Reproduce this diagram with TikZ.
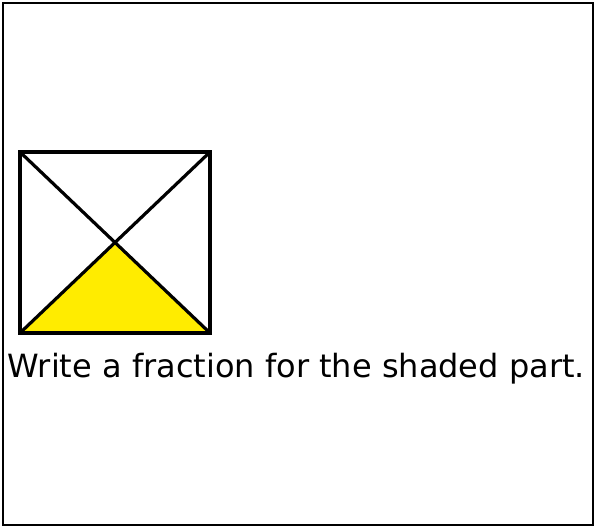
\documentclass[tikz,border=0pt]{standalone}
\usepackage{fontspec}
\setmainfont{DejaVu Sans}
\definecolor{partyellow}{RGB}{255,236,0}
\begin{document}
\begin{tikzpicture}[x=1pt,y=-1pt,
  edge/.style={line width=3.2pt,black,line join=miter},
  frame/.style={line width=1.4pt,black}]
\useasboundingbox (0,0) rectangle (595,527);
\coordinate (tl) at (20,152);
\coordinate (tr) at (210,152);
\coordinate (bl) at (20,333);
\coordinate (br) at (210,333);
\coordinate (c) at (115,244);
\draw[frame] (3,3) rectangle (593,525);
\fill[fill=partyellow] (bl) -- (c) -- (br) -- cycle;
\draw[edge] (tl) rectangle (br);
\draw[edge] (tl) -- (br);
\draw[edge] (tr) -- (bl);
\node[anchor=base west,inner sep=0pt,font=\fontsize{32}{36}\selectfont] (txt) at (7.5,377) {Write a fraction for the shaded part.};
\end{tikzpicture}
\end{document}
